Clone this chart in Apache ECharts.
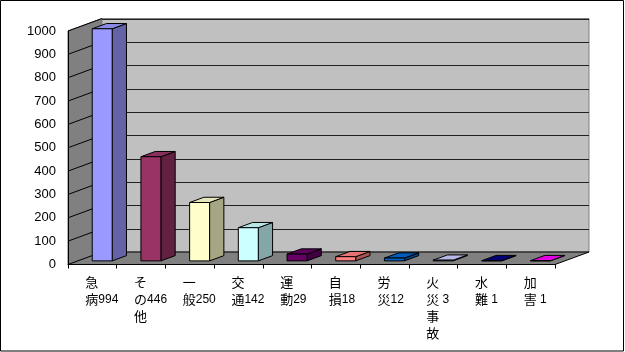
<!DOCTYPE html>
<html>
<head>
<meta charset="utf-8">
<script src="https://cdn.jsdelivr.net/npm/echarts@6/dist/echarts.min.js"></script>
<style>
html,body{margin:0;padding:0;background:#fff;}
#c{width:625px;height:352px;}
</style>
</head>
<body>
<div id="c"></div>
<script>
// ---- data ----
var categories = ['急病', 'その他', '一般', '交通', '運動', '自損', '労災', '火災事故', '水難', '加害'];
var values = [994, 446, 250, 142, 29, 18, 12, 3, 1, 1];
var yTicks = [0, 100, 200, 300, 400, 500, 600, 700, 800, 900, 1000];
var barColors = ['#9999FF', '#993366', '#FFFFCC', '#CCFFFF', '#660066', '#FF8080', '#0066CC', '#CCCCFF', '#000080', '#FF00FF'];

// ---- helpers ----
var DX = 34, DY = -12.5;          // depth vector of the 3D box
var FRONT = 0.29, BACK = 0.71;    // bar depth position (fraction of depth)
var BAR_FRAC = 0.41;              // bar width as fraction of category band

function shade(hex, k) {
  var n = parseInt(hex.slice(1), 16);
  var r = Math.round(((n >> 16) & 255) * k), g = Math.round(((n >> 8) & 255) * k), b = Math.round((n & 255) * k);
  return 'rgb(' + r + ',' + g + ',' + b + ')';
}
function labelText(name, v) {
  var chars = name.split('');
  var s = '{c|' + chars[0] + '}\n{c|' + chars[1] + '}{n|' + (v < 10 ? ' ' : '') + v + '}';
  for (var i = 2; i < chars.length; i++) s += '\n{c|' + chars[i] + '}';
  return s;
}

var chart = echarts.init(document.getElementById('c'), null, {renderer: 'canvas'});

var option = {
  backgroundColor: '#fff',
  animation: false,
  graphic: [{
    type: 'rect', silent: true, z: 100,
    shape: {x: 0.5, y: 0.5, width: 623, height: 350.5},
    style: {fill: 'none', stroke: '#000', lineWidth: 1}
  }],
  grid: {left: 68, right: 70, top: 31, bottom: 87.5},
  xAxis: {
    type: 'category',
    data: categories,
    boundaryGap: true,
    axisLine: {show: true, lineStyle: {color: '#000', width: 1}},
    axisTick: {show: true, interval: 0, length: 4, lineStyle: {color: '#000'}},
    axisLabel: {show: false},
    splitLine: {show: false},
    z: 1
  },
  yAxis: {
    type: 'value',
    min: 0, max: 1000, interval: 100,
    axisLine: {show: true, lineStyle: {color: '#000', width: 1}},
    axisTick: {show: false},
    axisLabel: {show: true, margin: 12, color: '#000', fontSize: 13,
      fontFamily: 'Liberation Sans, Arial, sans-serif',
      formatter: function (v) { return String(v); }},
    splitLine: {show: false},
    z: 1
  },
  series: [
    {
      // walls, floor and gridlines of the 3D box
      type: 'custom',
      z: -1,
      silent: true,
      data: [[0, 0]],
      renderItem: function (params, api) {
        var cs = params.coordSys;
        var x0 = cs.x, x1 = cs.x + cs.width;
        var yT = cs.y, yB = cs.y + cs.height;
        var children = [];
        // left wall
        children.push({type: 'polygon', shape: {points: [[x0, yT], [x0 + DX, yT + DY], [x0 + DX, yB + DY], [x0, yB]]},
          style: {fill: '#808080', stroke: '#606060', lineWidth: 1}});
        // back wall
        children.push({type: 'rect', shape: {x: x0 + DX, y: yT + DY, width: cs.width, height: cs.height},
          style: {fill: '#C0C0C0', stroke: '#808080', lineWidth: 1}});
        // floor
        children.push({type: 'polygon', shape: {points: [[x0, yB], [x1, yB], [x1 + DX, yB + DY], [x0 + DX, yB + DY]]},
          style: {fill: '#808080', stroke: '#000', lineWidth: 1}});
        // gridlines
        for (var i = 1; i < yTicks.length; i++) {
          var y = api.coord([0, yTicks[i]])[1];
          children.push({type: 'line', shape: {x1: x0, y1: y, x2: x0 + DX, y2: y + DY},
            style: {stroke: '#000', lineWidth: 1}});
          var yb = Math.round(y + DY) + 0.5;
          children.push({type: 'line', shape: {x1: x0 + DX, y1: yb, x2: x1 + DX, y2: yb},
            style: {stroke: '#202020', lineWidth: 1}});
        }
        return {type: 'group', children: children};
      }
    },
    {
      // 3D bars and category labels
      type: 'custom',
      z: 5,
      data: values.map(function (v, i) { return [i, v]; }),
      encode: {x: 0, y: 1},
      renderItem: function (params, api) {
        var i = api.value(0), v = api.value(1);
        var c0 = api.coord([i, 0]);
        var c1 = api.coord([i, v]);
        var band = api.size([1, 0])[0];
        var w = band * BAR_FRAC;
        var fx = FRONT * DX, fy = FRONT * DY;
        var dx = (BACK - FRONT) * DX, dy = (BACK - FRONT) * DY;
        var xl = c0[0] + fx - w / 2, xr = xl + w;
        var yb = c0[1] + fy, yt = c1[1] + fy;
        var col = barColors[i];
        function sty(fill) { return {fill: fill, stroke: '#000', lineWidth: 1, lineJoin: 'round'}; }
        var children = [
          {type: 'polygon', shape: {points: [[xr, yt], [xr + dx, yt + dy], [xr + dx, yb + dy], [xr, yb]]}, style: sty(shade(col, 0.65))},
          {type: 'polygon', shape: {points: [[xl, yt], [xr, yt], [xr + dx, yt + dy], [xl + dx, yt + dy]]}, style: sty(shade(col, 0.9))},
          {type: 'rect', shape: {x: xl, y: yt, width: w, height: yb - yt}, style: sty(col)},
          {type: 'text', x: c0[0] - 7, y: c0[1] + 9.5,
            style: {
              text: labelText(categories[i], v),
              align: 'left', verticalAlign: 'top',
              fill: '#000',
              rich: {
                c: {fontSize: 13, lineHeight: 17, fontFamily: 'Noto Sans CJK JP', fill: '#000'},
                n: {fontSize: 12, lineHeight: 17, fontFamily: 'Liberation Sans, Arial, sans-serif', fill: '#000'}
              }
            }}
        ];
        return {type: 'group', children: children};
      }
    }
  ]
};
chart.setOption(option);
</script>
</body>
</html>
